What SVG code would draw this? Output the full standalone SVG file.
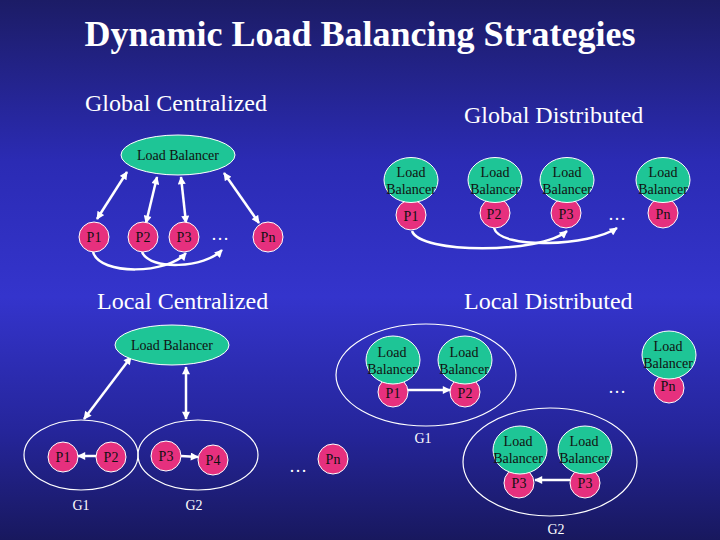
<svg xmlns="http://www.w3.org/2000/svg" width="720" height="540" viewBox="0 0 720 540">
<defs>
<linearGradient id="bg" x1="0" y1="0" x2="0" y2="1">
<stop offset="0" stop-color="#1c1c66"/>
<stop offset="0.3" stop-color="#2b2bb4"/>
<stop offset="0.55" stop-color="#3434cc"/>
<stop offset="0.8" stop-color="#25259a"/>
<stop offset="1" stop-color="#18185e"/>
</linearGradient>
<marker id="ah" viewBox="0 0 10 10" refX="9" refY="5" markerWidth="9" markerHeight="8" markerUnits="userSpaceOnUse" orient="auto-start-reverse">
<path d="M0,0 L10,5 L0,10 z" fill="#fff"/>
</marker>
</defs>
<style>
.lb{fill:#1ec596;stroke:#fff;stroke-width:1}
.p{fill:#e6307e;stroke:#fff;stroke-width:1}
.grp{fill:none;stroke:#fff;stroke-width:1.2}
.nt{fill:#111;text-anchor:middle}
.wt{fill:#fff;text-anchor:middle}
.hd{fill:#fff}
.ar{fill:none;stroke:#fff;stroke-width:2.5}
.da{marker-start:url(#ah);marker-end:url(#ah)}
.sa{marker-end:url(#ah)}
</style>
<rect width="720" height="540" fill="url(#bg)"/>
<g font-family="Liberation Serif, serif">
<text x="360" y="46" font-size="36" font-weight="bold" fill="#fff" text-anchor="middle">Dynamic Load Balancing Strategies</text>
<text class="hd" font-size="24" x="85" y="111">Global Centralized</text>
<text class="hd" font-size="24" x="464" y="123">Global Distributed</text>
<text class="hd" font-size="24" x="97" y="309">Local Centralized</text>
<text class="hd" font-size="24" x="464" y="309">Local Distributed</text>

<!-- group outlines -->
<g id="groups" font-size="14">
<ellipse id="lc-g1" class="grp" cx="81" cy="455" rx="57" ry="35"/>
<ellipse id="lc-g2" class="grp" cx="198" cy="455" rx="60" ry="35"/>
<ellipse id="ld-g1" class="grp" cx="426" cy="375" rx="90" ry="51"/>
<ellipse id="ld-g2" class="grp" cx="550" cy="462" rx="87" ry="54"/>
<text class="wt" x="81" y="510">G1</text>
<text class="wt" x="194" y="510">G2</text>
<text class="wt" x="423" y="443">G1</text>
<text class="wt" x="556" y="534">G2</text>
</g>

<!-- connectors -->
<g id="connectors">
<line class="ar da" x1="127" y1="172" x2="97" y2="219"/>
<line class="ar da" x1="157" y1="177" x2="146" y2="223"/>
<line class="ar da" x1="181" y1="177" x2="186" y2="223"/>
<line class="ar da" x1="224" y1="173" x2="259" y2="223"/>
<path class="ar sa" d="M93,252 C100,276 168,274 186,253"/>
<path class="ar sa" d="M142,252 C150,271 205,268 222,250"/>
<path class="ar sa" d="M412,231 C420,254 540,254 567,231"/>
<path class="ar sa" d="M494,228 C500,250 590,246 617,228"/>
<line class="ar da" x1="131" y1="357" x2="84" y2="419"/>
<line class="ar da" x1="186" y1="367" x2="186" y2="419"/>
<line class="ar sa" x1="96" y1="456" x2="78" y2="456"/>
<line class="ar sa" x1="181" y1="456" x2="198" y2="457"/>
<line class="ar sa" x1="408" y1="390" x2="450" y2="390"/>
<line class="ar sa" x1="570" y1="480" x2="535" y2="480"/>
</g>

<g font-size="18" fill="#fff" text-anchor="middle">
<text x="220" y="240">…</text>
<text x="617" y="220">…</text>
<text x="298" y="472">…</text>
<text x="617" y="393">…</text>
</g>

<g font-size="14">
<!-- Global Centralized -->
<g id="gc-lb"><ellipse class="lb" cx="178" cy="155" rx="57" ry="20"/><text class="nt" x="178" y="160">Load Balancer</text></g>
<g id="gc-p1"><circle class="p" cx="94" cy="237" r="15"/><text class="nt" x="94" y="242">P1</text></g>
<g id="gc-p2"><circle class="p" cx="143" cy="237" r="15"/><text class="nt" x="143" y="242">P2</text></g>
<g id="gc-p3"><circle class="p" cx="184" cy="237" r="15"/><text class="nt" x="184" y="242">P3</text></g>
<g id="gc-pn"><circle class="p" cx="268" cy="237" r="15"/><text class="nt" x="268" y="242">Pn</text></g>

<!-- Global Distributed -->
<g id="gd-n1"><circle class="p" cx="411" cy="215" r="15"/><ellipse class="lb" cx="411" cy="180" rx="27" ry="22.5"/><text class="nt" x="411" y="177">Load</text><text class="nt" x="411" y="194">Balancer</text><text class="nt" x="411" y="221">P1</text></g>
<g id="gd-n2"><circle class="p" cx="495" cy="213" r="15"/><ellipse class="lb" cx="495" cy="180" rx="27" ry="22.5"/><text class="nt" x="495" y="177">Load</text><text class="nt" x="495" y="194">Balancer</text><text class="nt" x="494" y="219">P2</text></g>
<g id="gd-n3"><circle class="p" cx="566" cy="213" r="15"/><ellipse class="lb" cx="567" cy="180" rx="27" ry="22.5"/><text class="nt" x="567" y="177">Load</text><text class="nt" x="567" y="194">Balancer</text><text class="nt" x="566" y="219">P3</text></g>
<g id="gd-nn"><circle class="p" cx="663" cy="213" r="15"/><ellipse class="lb" cx="663" cy="180" rx="27" ry="22.5"/><text class="nt" x="663" y="177">Load</text><text class="nt" x="663" y="194">Balancer</text><text class="nt" x="663" y="219">Pn</text></g>

<!-- Local Centralized -->
<g id="lc-lb"><ellipse class="lb" cx="172" cy="345" rx="57" ry="20"/><text class="nt" x="172" y="350">Load Balancer</text></g>
<g id="lc-p1"><circle class="p" cx="63" cy="457" r="15"/><text class="nt" x="63" y="462">P1</text></g>
<g id="lc-p2"><circle class="p" cx="111" cy="457" r="15"/><text class="nt" x="111" y="462">P2</text></g>
<g id="lc-p3"><circle class="p" cx="166" cy="456" r="15"/><text class="nt" x="166" y="461">P3</text></g>
<g id="lc-p4"><circle class="p" cx="213" cy="460" r="15"/><text class="nt" x="213" y="465">P4</text></g>
<g id="lc-pn"><circle class="p" cx="333" cy="459" r="15"/><text class="nt" x="333" y="464">Pn</text></g>

<!-- Local Distributed -->
<g id="ld-n1"><circle class="p" cx="393" cy="392" r="15"/><ellipse class="lb" cx="393" cy="360" rx="27" ry="24"/><text class="nt" x="392" y="357">Load</text><text class="nt" x="392" y="374">Balancer</text><text class="nt" x="393" y="398">P1</text></g>
<g id="ld-n2"><circle class="p" cx="465" cy="392" r="15"/><ellipse class="lb" cx="465" cy="360" rx="27" ry="24"/><text class="nt" x="464" y="357">Load</text><text class="nt" x="464" y="374">Balancer</text><text class="nt" x="465" y="398">P2</text></g>
<g id="ld-nn"><circle class="p" cx="669" cy="388" r="15"/><ellipse class="lb" cx="669" cy="355" rx="27" ry="24"/><text class="nt" x="668" y="351">Load</text><text class="nt" x="668" y="368">Balancer</text><text class="nt" x="668" y="391">Pn</text></g>
<g id="ld-n3"><circle class="p" cx="519" cy="483" r="15"/><ellipse class="lb" cx="520" cy="450" rx="27" ry="24"/><text class="nt" x="518" y="446">Load</text><text class="nt" x="518" y="463">Balancer</text><text class="nt" x="519" y="488">P3</text></g>
<g id="ld-n4"><circle class="p" cx="585" cy="483" r="15"/><ellipse class="lb" cx="585" cy="450" rx="27" ry="24"/><text class="nt" x="584" y="446">Load</text><text class="nt" x="584" y="463">Balancer</text><text class="nt" x="585" y="488">P3</text></g>
</g>
</g>
</svg>
